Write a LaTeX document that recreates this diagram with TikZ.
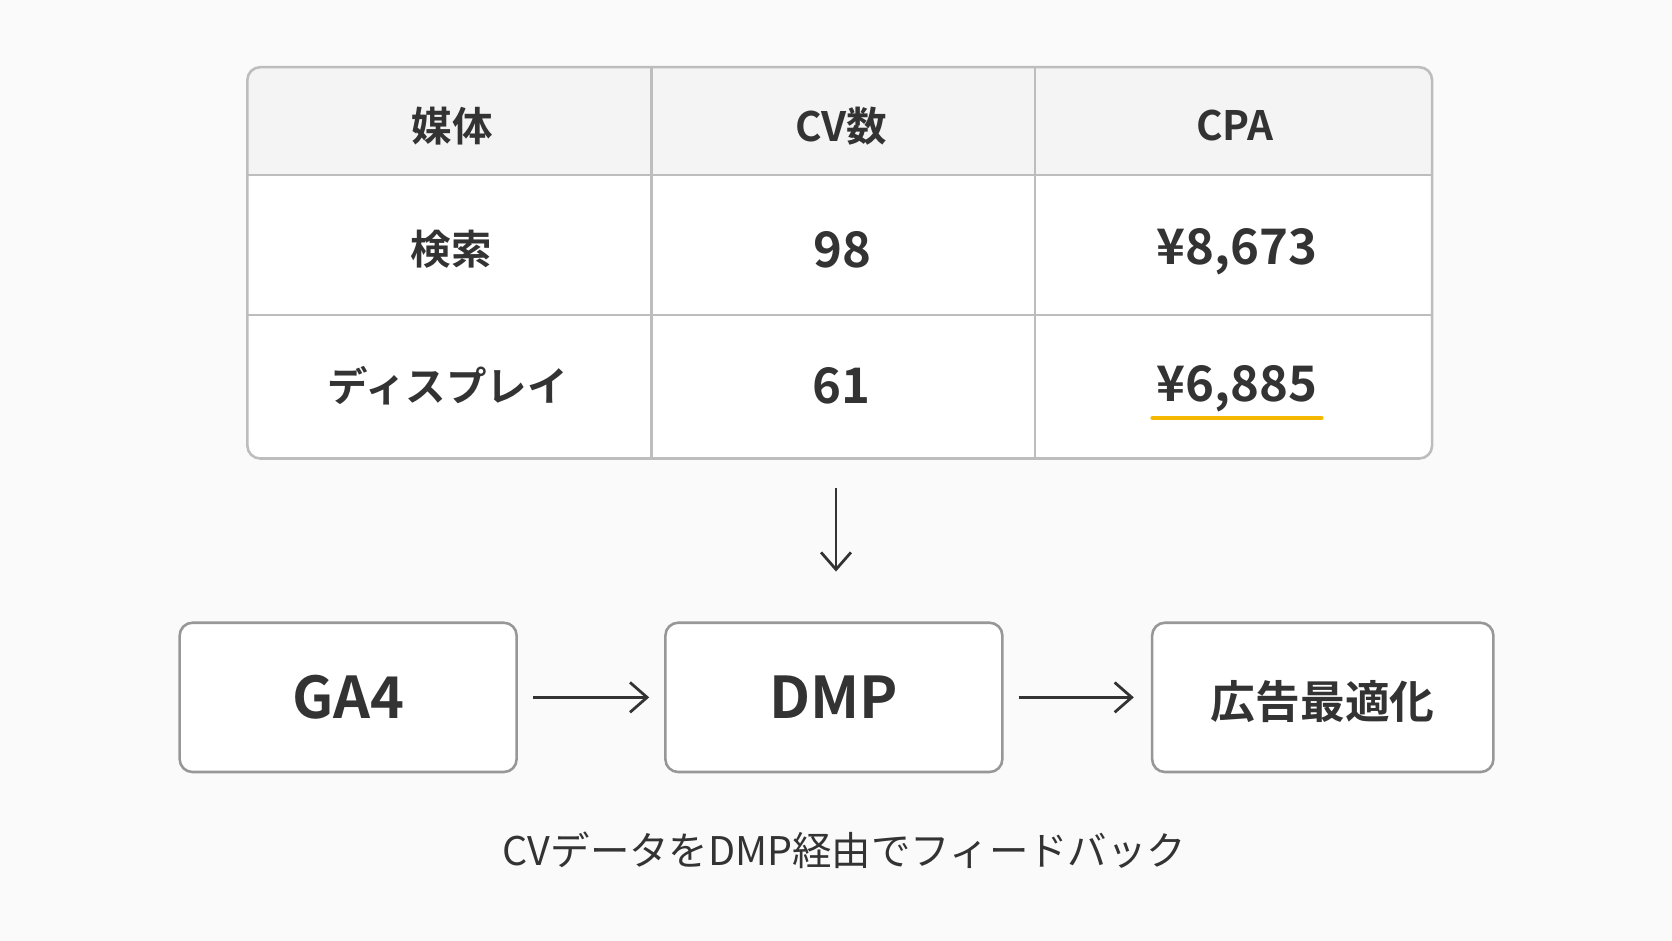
\documentclass[tikz,border=0pt]{standalone}
\usepackage{fontspec}
\setmainfont{Noto Sans CJK JP}[BoldFont={* Bold}]
\newfontfamily\jpb{Noto Sans CJK JP Bold}
\usetikzlibrary{arrows.meta}
\definecolor{bg}{HTML}{FAFAFA}
\definecolor{txt}{HTML}{333333}
\definecolor{ln}{HTML}{BDBDBD}
\definecolor{hd}{HTML}{F4F4F4}
\definecolor{yel}{HTML}{F5B700}
\begin{document}
\begin{tikzpicture}[x=0.5pt,y=-0.5pt,
  hdr/.style={text=txt,font=\jpb\fontsize{19}{24}\selectfont},
  cell/.style={text=txt,font=\jpb\fontsize{23}{27}\selectfont},
  jcell/.style={text=txt,font=\jpb\fontsize{19}{24}\selectfont},
  box/.style={draw=ln!80!black,line width=1.2pt,rounded corners=6pt,fill=white,minimum width=158pt,minimum height=70pt,text=txt,font=\jpb\fontsize{27}{32}\selectfont},
  arr/.style={draw=txt,line width=1.3pt,-{Straight Barb[length=8pt,width=14pt]}}]
\fill[bg] (0,0) rectangle (1568,882);
\useasboundingbox (0,0) rectangle (1568,882);
% table
\fill[white,rounded corners=6pt] (232,63) rectangle (1343,430);
\begin{scope}
\clip[rounded corners=6pt] (232,63) rectangle (1343,430);
\fill[hd] (232,63) rectangle (1343,164);
\end{scope}
\draw[ln,line width=1pt] (232,164) -- (1343,164) (232,295) -- (1343,295) (611,63) -- (611,430) (971,63) -- (971,430);
\draw[ln,line width=1.2pt,rounded corners=6pt] (232,63) rectangle (1343,430);
\node[hdr] (h1) at (424,118) {媒体};
\node[hdr] (h2) at (789,118) {CV数};
\node[hdr] (h3) at (1158,118) {CPA};
\node[jcell] (a1) at (423,234) {検索};
\node[cell] (a2) at (790,234) {98};
\node[cell] (a3) at (1160,236) {¥8,673};
\node[jcell] (b1) at (420,362) {ディスプレイ};
\node[cell] (b2) at (789,362) {61};
\node[cell] (b3) at (1160,365) {¥6,885};
\draw[yel,line width=2.2pt,line cap=round] (1081,392) -- (1239,392);
\coordinate (d0) at (784,458);
\coordinate (d1) at (784,536);
\draw[arr] (d0) -- (d1);
% boxes
\node[box] (g) at (326.5,654) {GA4};
\node[box] (d) at (782,654) {DMP};
\node[box,minimum width=160pt,font=\jpb\fontsize{21}{26}\selectfont,text depth=0pt,yshift=0pt] (o) at (1240.5,654) {\raisebox{-1.5pt}{広告最適化}};
\draw[arr] ([xshift=7pt]g.east) -- ([xshift=-7pt]d.west);
\draw[arr] ([xshift=7pt]d.east) -- ([xshift=-8pt]o.west);
\node[text=txt,font=\fontsize{18.5}{22}\selectfont] (c) at (792,797) {CVデータをDMP経由でフィードバック};
\end{tikzpicture}
\end{document}
